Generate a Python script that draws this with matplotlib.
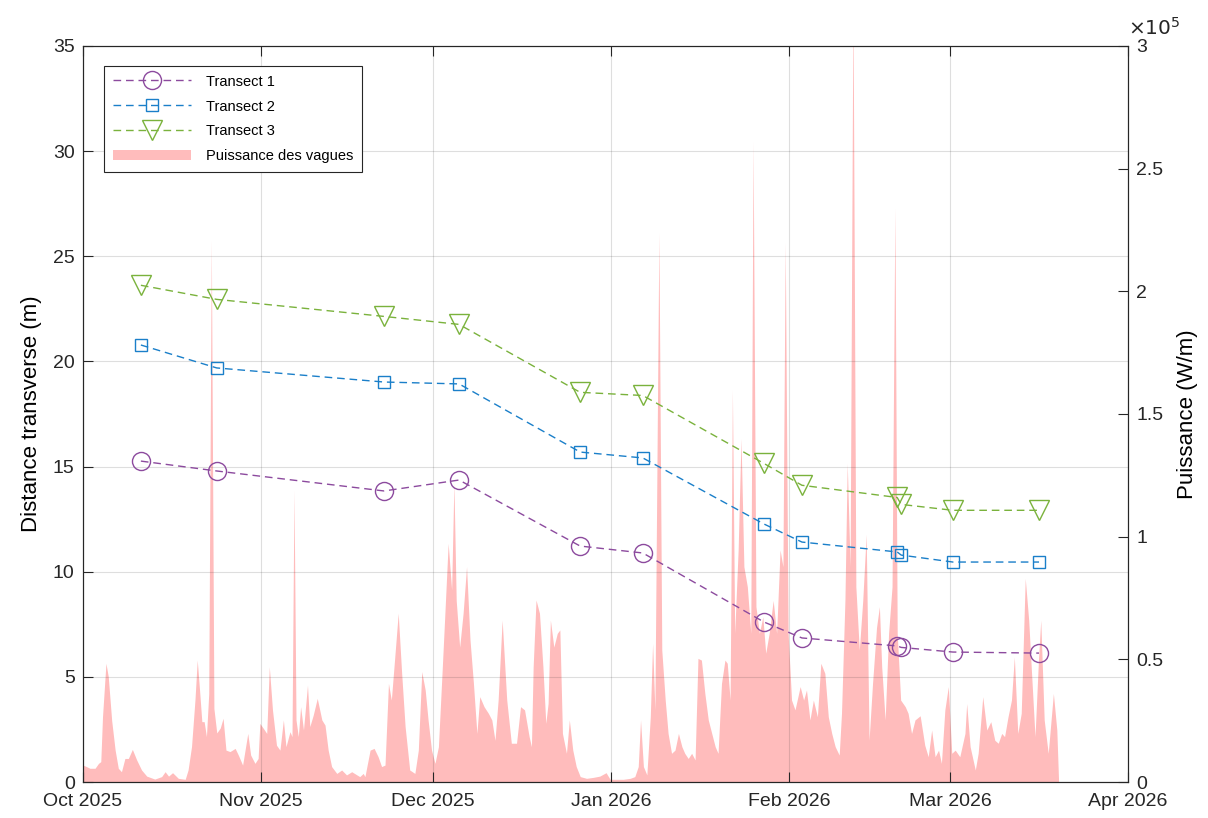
import matplotlib
matplotlib.use('Agg')
import matplotlib.pyplot as plt
import matplotlib.dates as mdates
from matplotlib.ticker import FuncFormatter, MultipleLocator
import numpy as np
import pandas as pd

plt.rcParams['font.family'] = ['Liberation Sans', 'DejaVu Sans']

# Survey dates and cross-shore distances (m)
survey_dates = ['2025-10-11 02:00', '2025-10-24 07:00', '2025-11-22 10:00', '2025-12-05 12:00',
                '2025-12-26 14:00', '2026-01-06 12:00', '2026-01-27 14:00', '2026-02-03 05:00',
                '2026-02-19 19:00', '2026-02-20 12:00', '2026-03-01 12:00', '2026-03-16 12:00']
transect1 = [15.26, 14.79, 13.84, 14.36, 11.22, 10.89, 7.61, 6.85, 6.47, 6.40, 6.18, 6.13]
transect2 = [20.78, 19.69, 19.02, 18.93, 15.69, 15.41, 12.27, 11.41, 10.94, 10.79, 10.46, 10.46]
transect3 = [23.62, 22.95, 22.14, 21.76, 18.53, 18.38, 15.15, 14.11, 13.53, 13.20, 12.92, 12.92]

# Wave power: days since 2025-10-01 and power in kW/m
wave_start = '2025-10-01'
wave_day = [0.0, 0.6, 1.2, 2.1, 2.7, 3.1, 3.4, 4.0, 4.4, 5.0, 5.6, 6.15, 6.7, 7.3, 7.9, 8.6,
            9.35, 10.2, 11.1, 12.5, 13.7, 14.3, 14.9, 15.6, 16.6, 17.8, 18.3, 18.9, 19.5, 19.9,
            20.3, 20.7, 21.1, 21.5, 21.9, 22.35, 22.8, 23.3, 23.9, 24.4, 24.9, 25.6, 26.5, 27.05,
            27.8, 28.7, 29.2, 29.95, 30.5, 30.8, 31.4, 32.0, 32.45, 33.0, 33.7, 34.3, 34.9, 35.35,
            36.05, 36.4, 36.75, 37.1, 37.5, 37.9, 38.4, 39.1, 39.5, 40.1, 40.8, 41.6, 42.15, 42.7,
            43.3, 44.2, 45.05, 45.9, 46.8, 47.7, 48.2, 48.8, 49.1, 50.0, 50.7, 51.4, 52.0, 52.6,
            53.2, 53.7, 54.3, 54.9, 55.5, 56.1, 56.9, 57.8, 58.4, 59.0, 59.6, 60.1, 60.7, 61.3,
            61.9, 62.5, 63.0, 63.6, 64.2, 64.6, 65.0, 65.6, 66.2, 66.8, 67.4, 68.0, 68.6, 69.1,
            69.85, 70.6, 71.2, 71.75, 72.3, 73.0, 73.8, 74.6, 75.5, 76.2, 76.9, 77.7, 78.1, 78.4,
            78.9, 79.5, 80.1, 80.6, 81.0, 81.4, 82.0, 82.6, 83.05, 83.5, 84.2, 84.7, 85.3, 85.9,
            86.6, 87.7, 88.9, 90.0, 91.1, 91.8, 92.9, 94.1, 95.3, 96.1, 96.7, 97.1, 97.6, 98.2,
            98.8, 99.2, 99.6, 100.3, 100.8, 101.4, 101.9, 102.5, 103.1, 103.7, 104.3, 104.8, 105.4,
            106.0, 106.6, 107.1, 107.7, 108.3, 108.9, 109.5, 110.1, 110.6, 111.2, 111.8, 112.2,
            112.7, 113.1, 113.5, 114.1, 114.6, 115.1, 115.7, 116.3, 116.7, 117.2, 117.8, 118.4,
            118.9, 119.5, 120.2, 120.8, 121.4, 121.9, 122.3, 122.8, 123.4, 124.0, 124.9, 125.5,
            126.0, 126.6, 127.2, 127.9, 128.5, 129.2, 129.8, 130.4, 131.0, 131.7, 132.1, 132.7,
            133.1, 133.6, 134.1, 134.6, 135.2, 135.8, 136.4, 136.9, 137.5, 138.2, 138.7, 139.1,
            139.7, 140.3, 140.9, 141.4, 141.8, 142.4, 143.2, 143.7, 144.3, 144.9, 145.8, 146.6,
            147.2, 147.8, 148.4, 149.0, 149.5, 150.1, 150.7, 151.3, 151.9, 152.7, 153.6, 153.9,
            154.5, 155.4, 155.9, 156.7, 157.4, 158.1, 158.8, 159.4, 160.0, 160.5, 161.1, 161.7,
            162.2, 162.8, 163.4, 164.1, 164.7, 165.2, 165.8, 166.4, 166.8, 167.4, 168.1, 169.0,
            169.6, 169.9]
wave_kw = [6.9, 6.3, 5.6, 5.6, 7.6, 8.3, 26.6, 48.4, 43, 25, 13, 5.6, 4.2, 9.6, 9.6, 13.3,
           9, 4.9, 2.4, 1.2, 2.2, 4.2, 2.4, 3.8, 1.5, 1.1, 4.9, 14.4, 33.4, 49.7,
           37.5, 24.6, 24.6, 18.5, 36, 221, 30, 20, 22, 26, 13, 12.4, 13.7, 11,
           6.9, 19.8, 11, 7.6, 9.6, 23.9, 21.9, 19.8, 47, 29.4, 15, 13, 25.3, 14.4,
           20.5, 18.5, 119, 25.3, 18.5, 30.7, 21.2, 39.5, 22.6, 27.3, 34.1, 25.3, 23.2, 13,
           6.3, 3.5, 4.9, 2.9, 4.2, 2.9, 2.2, 3.5, 2.2, 13, 13.7, 10.3, 6.3, 6.9,
           40.2, 33.4, 51, 68.8, 44.3, 22.6, 4.9, 3.5, 13, 45, 37.5, 25.3, 13, 7.6,
           14.4, 43, 67.4, 97.3, 78.3, 122, 74, 55, 68.8, 87.8, 58, 40.2, 19.8, 34.8,
           30.7, 28, 25.3, 17, 33.4, 66, 33.4, 15.8, 15.8, 30.7, 29.4, 18.5, 14.4, 47,
           74.2, 68.8, 47, 23.9, 32, 66, 55, 60.6, 62, 19.8, 11.7, 25.3, 13, 6.3,
           2.2, 1.5, 1.9, 2.4, 3.8, 1.1, 1.1, 1.1, 1.5, 2.2, 6.3, 25.3, 6.3, 2.9,
           26.6, 56.5, 29.4, 224, 53.8, 33.4, 19.8, 11.7, 13, 19.8, 14.4, 11.7, 9.6,
           11.7, 9, 50.4, 49.7, 36.1, 25.3, 19.8, 14.4, 11.7, 40.2, 49.7, 48.4,
           33.4, 160, 60.6, 94.6, 140, 87.8, 79.6, 60.6, 261, 71.5, 60.6, 67.4,
           52.5, 60.6, 74, 60.6, 94.6, 87.8, 220, 60.6, 33.4, 29.4, 38.9, 33.4,
           37.5, 25.3, 33.4, 26.6, 48.4, 44.3, 26.6, 19.8, 14.4, 11, 28, 74.2,
           130, 87.8, 320, 79.6, 53.8, 74, 101, 17, 40, 63, 71.5, 47,
           25.3, 60.6, 79.6, 234, 60.6, 33.4, 30.7, 28, 19.8, 25.3, 27, 15,
           10.3, 21.2, 10.3, 13, 7.6, 29.4, 38.9, 11.7, 13, 10.3, 19.8, 32,
           14.4, 4.9, 11.7, 34.8, 21.2, 24.6, 17, 15.8, 19.8, 18.5, 26.6, 33.4,
           51, 19.8, 28, 83, 66, 44.3, 18.5, 49.7, 66, 25.3, 11.7, 36.1,
           21.2, 0.8]

survey_t = pd.to_datetime(survey_dates)
wave_t = pd.Timestamp(wave_start) + pd.to_timedelta(wave_day, unit='D')
wave_w = np.array(wave_kw) * 1000.0

c1 = '#8c4a9e'
c2 = '#1a7fc9'
c3 = '#7ab23c'
c_fill = '#ffbcbc'
c_axis = '#262626'

fig = plt.figure(figsize=(12.08, 8.18), dpi=100)
ax = fig.add_axes([0.0687, 0.044, 0.8651, 0.8998])
ax2 = ax.twinx()

# wave power behind the transects
area = ax2.fill_between(wave_t, 0, wave_w, color=c_fill, linewidth=0, label='Puissance des vagues')
ax.set_zorder(ax2.get_zorder() + 1)
ax.patch.set_visible(False)

l1, = ax.plot(survey_t, transect1, '--o', color=c1, mfc='none', ms=13, lw=1.0, mew=1.0, label='Transect 1')
l2, = ax.plot(survey_t, transect2, '--s', color=c2, mfc='none', ms=9, lw=1.0, mew=1.0, label='Transect 2')
l3, = ax.plot(survey_t, transect3, '--v', color=c3, mfc='none', ms=15, lw=1.0, mew=1.0, label='Transect 3')
for l in (l1, l2, l3):
    l.set_dashes([5.5, 3.5])

ax.set_xlim(pd.Timestamp('2025-10-01'), pd.Timestamp('2026-04-01'))
ax.set_ylim(0, 35)
ax.yaxis.set_major_locator(MultipleLocator(5))
ax.xaxis.set_major_locator(mdates.MonthLocator())
ax.xaxis.set_major_formatter(mdates.DateFormatter('%b %Y'))

ax2.set_ylim(0, 3e5)
ax2.yaxis.set_major_locator(MultipleLocator(0.5e5))
ax2.yaxis.set_major_formatter(FuncFormatter(lambda v, p: f'{v / 1e5:g}'))
ax2.text(1.0, 1.01, r'$\times 10^{5}$', transform=ax2.transAxes, ha='left', va='bottom',
         fontsize=14.5, color=c_axis)

ax.grid(True, color='#262626', alpha=0.15, lw=0.8)
ax.tick_params(axis='both', direction='in', length=7, width=0.8, labelsize=14, colors=c_axis,
               top=True, pad=6)
ax.tick_params(axis='x', pad=8)
ax2.tick_params(axis='y', direction='in', length=7, width=0.8, labelsize=14, colors=c_axis, pad=6)
for a in (ax, ax2):
    for s in a.spines.values():
        s.set_color(c_axis)
        s.set_linewidth(0.8)

ax.set_ylabel('Distance transverse (m)', fontsize=16, color='black', labelpad=8)
ax2.set_ylabel('Puissance (W/m)', fontsize=16, color='black', labelpad=10)

leg = ax.legend([l1, l2, l3, area], ['Transect 1', 'Transect 2', 'Transect 3', 'Puissance des vagues'],
                loc='upper left', bbox_to_anchor=(0.02, 0.973), borderaxespad=0, fontsize=10.5,
                handlelength=5.4, fancybox=False, framealpha=1, edgecolor=c_axis, borderpad=0.6,
                labelspacing=0.75, handletextpad=1.0)
leg.get_frame().set_linewidth(0.8)

fig.savefig('out.png', dpi=100)
